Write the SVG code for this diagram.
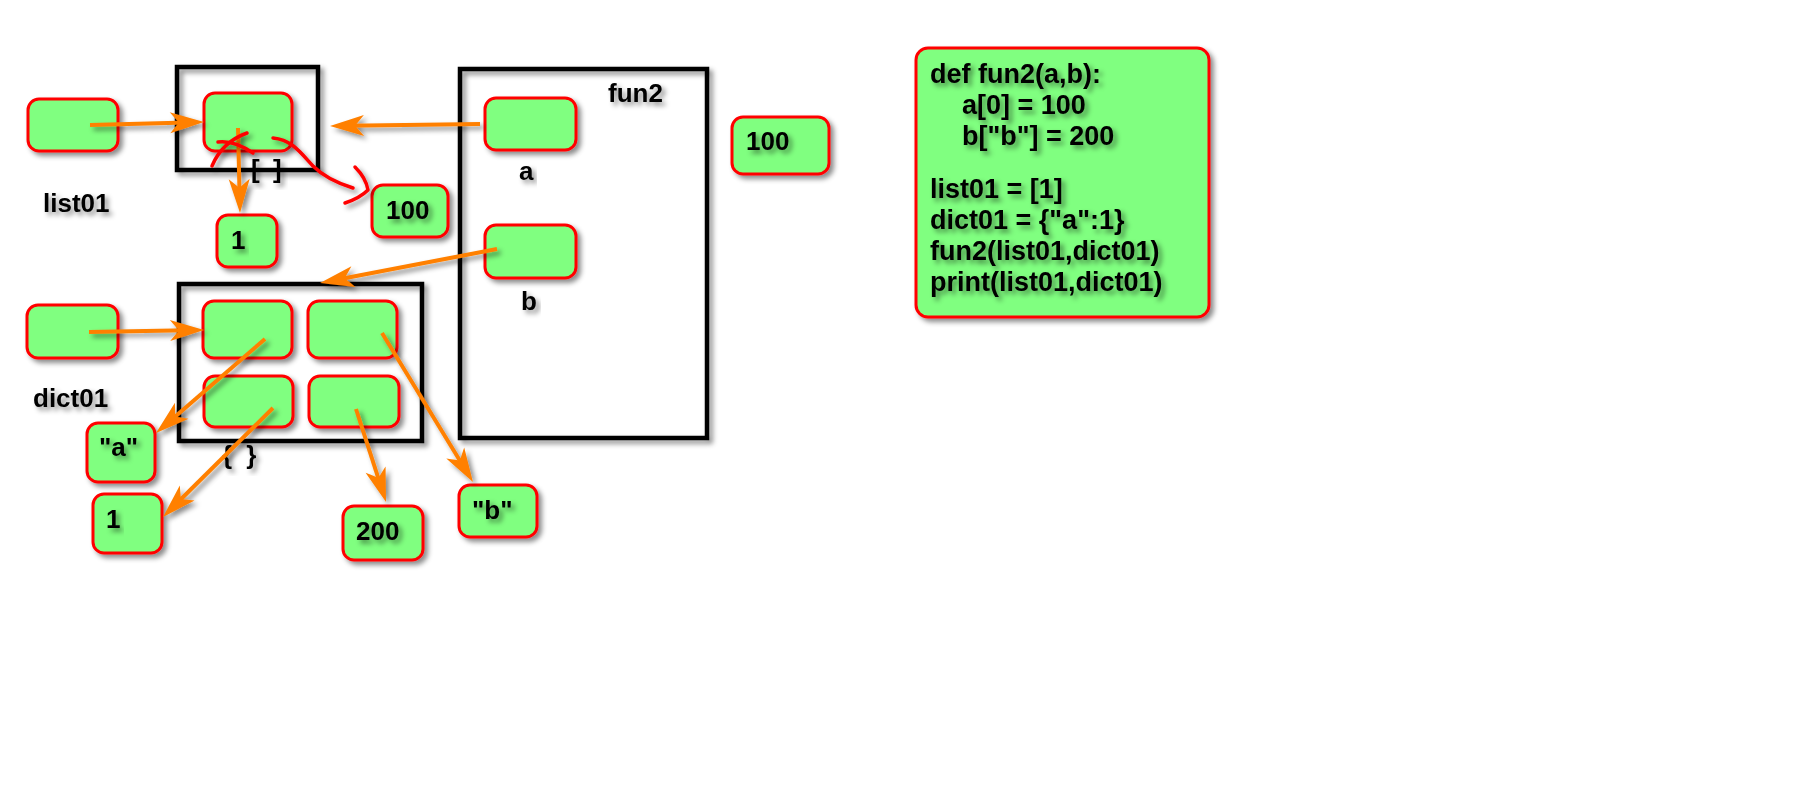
<svg xmlns="http://www.w3.org/2000/svg" width="1800" height="800" viewBox="0 0 1800 800">
  <defs>
    <filter id="shadow" x="-20%" y="-20%" width="140%" height="140%">
      <feDropShadow dx="3.5" dy="3.5" stdDeviation="2.6" flood-color="#000" flood-opacity="0.45"/>
    </filter>
    <marker id="head" markerUnits="userSpaceOnUse" markerWidth="40" markerHeight="26" viewBox="-19 -13 40 26" refX="0" refY="0" orient="auto" overflow="visible">
      <path d="M17,0 L-17,-10.5 Q-10,-2 -8,0 Q-10,2 -17,10.5 Z" fill="#FF8000"/>
    </marker>
  </defs>
  <style>
    .cell { fill: #80FF80; stroke: #FF0000; stroke-width: 3; filter: url(#shadow); }
    .frame { fill: none; stroke: #000; stroke-width: 4.5; filter: url(#shadow); }
    .lbl { font-family: "Liberation Sans", Arial, sans-serif; font-weight: bold; font-size: 26px; fill: #000; filter: url(#shadow); }
    .code { font-family: "Liberation Sans", Arial, sans-serif; font-weight: bold; font-size: 27px; fill: #000; }
    .arrow { fill: none; stroke: #FF8000; stroke-width: 4; marker-end: url(#head); }
    .scribble { fill: none; stroke: #FF0000; stroke-width: 3.5; stroke-linecap: round; stroke-linejoin: round; }
  </style>
  <rect width="1800" height="800" fill="#fff"/>

  <!-- list01 variable -->
  <g id="list01">
    <rect class="cell" x="28" y="99" width="90" height="52" rx="11"/>
    <text class="lbl" x="43" y="212">list01</text>
  </g>

  <!-- list object -->
  <g id="list-obj">
    <rect class="frame" x="177" y="67" width="141" height="103"/>
    <rect class="cell" x="204" y="93" width="88" height="58" rx="11"/>
    <text class="lbl" x="251" y="178" word-spacing="6">[ ]</text>
  </g>

  <g id="int-1">
    <rect class="cell" x="217" y="215" width="60" height="52" rx="11"/>
    <text class="lbl" x="231" y="249">1</text>
  </g>

  <g id="int-100-new">
    <rect class="cell" x="372" y="185" width="76" height="52" rx="11"/>
    <text class="lbl" x="386" y="219">100</text>
  </g>

  <!-- fun2 frame -->
  <g id="fun2">
    <rect class="frame" x="460" y="69" width="247" height="369"/>
    <text class="lbl" x="608" y="102">fun2</text>
  </g>
  <g id="param-a">
    <rect class="cell" x="485" y="98" width="91" height="52" rx="11"/>
    <text class="lbl" x="519" y="180">a</text>
  </g>
  <g id="param-b">
    <rect class="cell" x="485" y="225" width="91" height="53" rx="11"/>
    <text class="lbl" x="521" y="310">b</text>
  </g>

  <g id="int-100">
    <rect class="cell" x="732" y="117" width="97" height="57" rx="11"/>
    <text class="lbl" x="746" y="150">100</text>
  </g>

  <!-- dict01 variable -->
  <g id="dict01">
    <rect class="cell" x="27" y="305" width="91" height="53" rx="11"/>
    <text class="lbl" x="33" y="407">dict01</text>
  </g>

  <!-- dict object -->
  <g id="dict-obj">
    <rect class="frame" x="179" y="284" width="243" height="157"/>
    <rect class="cell" x="203" y="301" width="89" height="57" rx="11"/>
    <rect class="cell" x="308" y="301" width="89" height="57" rx="11"/>
    <rect class="cell" x="204" y="376" width="89" height="51" rx="11"/>
    <rect class="cell" x="309" y="376" width="90" height="51" rx="11"/>
    <text class="lbl" x="222" y="464" word-spacing="7">{ }</text>
  </g>

  <g id="key-a">
    <rect class="cell" x="87" y="423" width="68" height="59" rx="11"/>
    <text class="lbl" x="99" y="456">"a"</text>
  </g>
  <g id="val-1">
    <rect class="cell" x="93" y="494" width="69" height="59" rx="11"/>
    <text class="lbl" x="106" y="528">1</text>
  </g>
  <g id="val-200">
    <rect class="cell" x="343" y="506" width="80" height="54" rx="11"/>
    <text class="lbl" x="356" y="540">200</text>
  </g>
  <g id="key-b">
    <rect class="cell" x="459" y="485" width="78" height="52" rx="11"/>
    <text class="lbl" x="472" y="519">"b"</text>
  </g>

  <!-- source code -->
  <g id="code">
    <rect class="cell" x="916" y="48" width="293" height="269" rx="12"/>
    <g class="code" filter="url(#shadow)">
      <text x="930" y="83">def fun2(a,b):</text>
      <text x="962" y="114">a[0] = 100</text>
      <text x="962" y="145">b["b"] = 200</text>
      <text x="930" y="198">list01 = [1]</text>
      <text x="930" y="229">dict01 = {"a":1}</text>
      <text x="930" y="260">fun2(list01,dict01)</text>
      <text x="930" y="291">print(list01,dict01)</text>
    </g>
  </g>

  <!-- references -->
  <g id="connectors" filter="url(#shadow)">
    <path class="arrow" d="M90,125 L187,122.4"/>
    <path class="arrow" d="M480,124 L347,125.8"/>
    <path class="arrow" d="M238,128 L239.6,196"/>
    <path class="arrow" d="M497,249 L336.7,279.8"/>
    <path class="arrow" d="M89,332 L187,330.3"/>
    <path class="arrow" d="M265,339 L168.9,421.9"/>
    <path class="arrow" d="M273,408 L175.1,505"/>
    <path class="arrow" d="M356,409 L380.8,485.8"/>
    <path class="arrow" d="M382,333 L464.1,467.5"/>
  </g>

  <!-- hand-drawn correction -->
  <g id="scribble" filter="url(#shadow)">
    <path class="scribble" d="M212,166 Q222,142 247,133"/>
    <path class="scribble" d="M218,142 Q234,140 253,153"/>
    <path class="scribble" d="M273,138 C292,140 300,152 313,166 C325,178 340,184 353,188"/>
    <path class="scribble" d="M355,167 Q366,178 368,190 Q360,198 345,203"/>
  </g>
</svg>
